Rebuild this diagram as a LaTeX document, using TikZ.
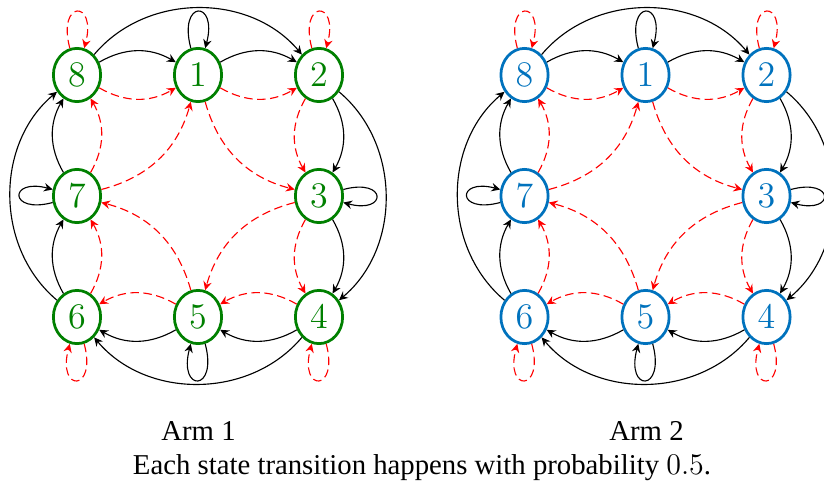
\documentclass[tikz,border=0pt]{standalone}
\usepackage{fontspec}
\setmainfont{Liberation Serif}
\usetikzlibrary{arrows.meta,shapes.geometric}
\definecolor{mygreen}{RGB}{0,128,0}
\definecolor{myblue}{RGB}{0,114,189}
\begin{document}
\begin{tikzpicture}[x=0.4pt,y=0.4pt,
  state/.style={ellipse,draw,line width=1.1pt,minimum width=18.9pt,minimum height=21.3pt,inner sep=0pt,font=\fontsize{13.5}{13.5}\selectfont},
  gstate/.style={state,draw=mygreen,text=mygreen},
  bstate/.style={state,draw=myblue,text=myblue},
  arr/.style={-{Stealth[length=3.5pt,width=3.4pt,inset=1.2pt]},line width=0.45pt},
  det/.style={arr,black},
  rnd/.style={arr,red,dash pattern=on 3.4pt off 1.8pt},
  every loop/.style={looseness=9},
  lbl/.style={anchor=base,font=\fontsize{11.5}{13}\selectfont,inner sep=0pt},
]
\clip (0,0) rectangle (824,-486);
% left diagram (green)
\node[gstate] (a8) at (77,-75) {$8$};
\node[gstate] (a1) at (198,-75) {$1$};
\node[gstate] (a2) at (319,-75) {$2$};
\node[gstate] (a7) at (77,-196) {$7$};
\node[gstate] (a3) at (319,-196) {$3$};
\node[gstate] (a6) at (77,-317) {$6$};
\node[gstate] (a5) at (198,-317) {$5$};
\node[gstate] (a4) at (319,-317) {$4$};
% right diagram (blue)
\node[bstate] (b8) at (524.5,-75) {$8$};
\node[bstate] (b1) at (645.5,-75) {$1$};
\node[bstate] (b2) at (766.5,-75) {$2$};
\node[bstate] (b7) at (524.5,-196) {$7$};
\node[bstate] (b3) at (766.5,-196) {$3$};
\node[bstate] (b6) at (524.5,-317) {$6$};
\node[bstate] (b5) at (645.5,-317) {$5$};
\node[bstate] (b4) at (766.5,-317) {$4$};
\foreach \p in {a,b}{
  \path[det]
    (\p8) edge[bend left] (\p1)
    (\p1) edge[bend left] (\p2)
    (\p2) edge[bend left] (\p3)
    (\p3) edge[bend left] (\p4)
    (\p4) edge[bend left] (\p5)
    (\p5) edge[bend left] (\p6)
    (\p6) edge[bend left] (\p7)
    (\p7) edge[bend left] (\p8)
    (\p8) edge[bend left=50] (\p2)
    (\p2) edge[bend left=50] (\p4)
    (\p4) edge[bend left=50] (\p6)
    (\p6) edge[bend left=50] (\p8)
    (\p1) edge[loop above] (\p1)
    (\p3) edge[loop right] (\p3)
    (\p5) edge[loop below] (\p5)
    (\p7) edge[loop left] (\p7);
  \path[rnd]
    (\p8) edge[bend right] (\p1)
    (\p1) edge[bend right] (\p2)
    (\p2) edge[bend right] (\p3)
    (\p3) edge[bend right] (\p4)
    (\p4) edge[bend right] (\p5)
    (\p5) edge[bend right] (\p6)
    (\p6) edge[bend right] (\p7)
    (\p7) edge[bend right] (\p8)
    (\p1) edge[bend right] (\p3)
    (\p3) edge[bend right] (\p5)
    (\p5) edge[bend right] (\p7)
    (\p7) edge[bend right] (\p1)
    (\p8) edge[loop above] (\p8)
    (\p2) edge[loop above] (\p2)
    (\p4) edge[loop below] (\p4)
    (\p6) edge[loop below] (\p6);
}
\node[lbl] (arm1) at (198.5,-440.7) {Arm 1};
\node[lbl] (arm2) at (646.5,-440.7) {Arm 2};
\node[lbl] (cap) at (422,-474) {Each state transition happens with probability $0.5$.};
\end{tikzpicture}
\end{document}
